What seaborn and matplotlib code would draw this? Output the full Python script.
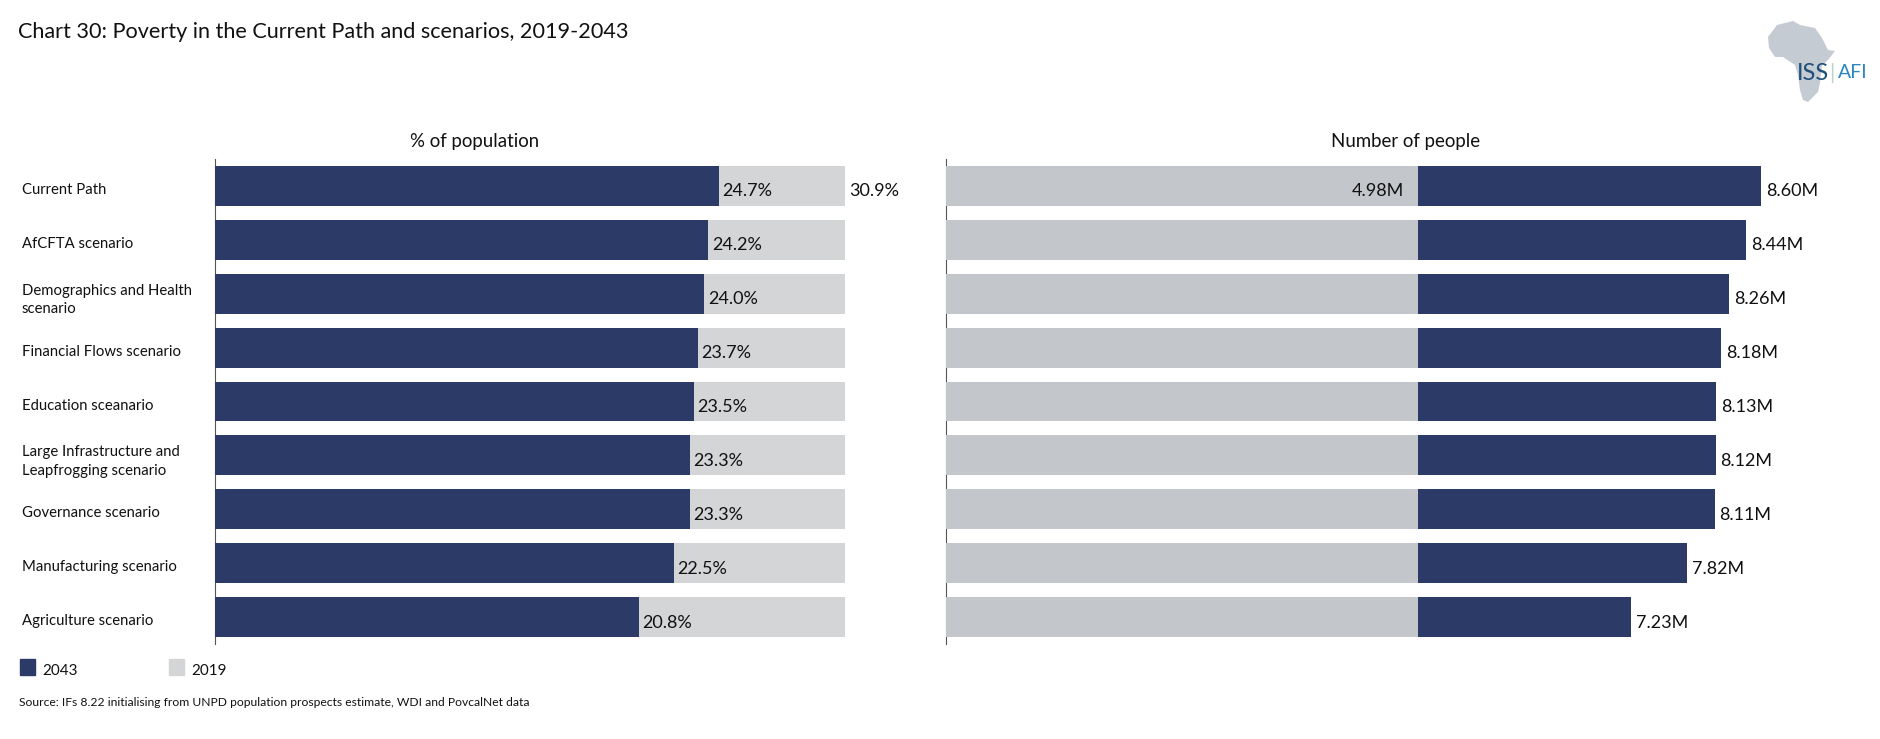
import matplotlib
matplotlib.use("Agg")
import matplotlib.pyplot as plt
from matplotlib.patches import Patch, Polygon
from matplotlib.transforms import ScaledTranslation
import seaborn as sns

categories = ["Current Path", "AfCFTA scenario", "Demographics and Health\nscenario",
              "Financial Flows scenario", "Education sceanario",
              "Large Infrastructure and\nLeapfrogging scenario", "Governance scenario",
              "Manufacturing scenario", "Agriculture scenario"]
pct_2043 = [24.7, 24.2, 24.0, 23.7, 23.5, 23.3, 23.3, 22.5, 20.8]
pct_2019 = [30.9] * 9
people_2043 = [8.60, 8.44, 8.26, 8.18, 8.13, 8.12, 8.11, 7.82, 7.23]
people_2019 = [4.98] * 9

W, H = 1880, 739
DARK, GREY_L, GREY_R, INK = "#2B3A66", "#D4D5D7", "#C3C6CA", "#111111"
LABEL_SIZE = 13
LABEL_DROP_PT = 4.0

sns.set_theme(style="white")
plt.rcParams["font.family"] = ["Lato", "DejaVu Sans"]

fig = plt.figure(figsize=(W / 100, H / 100), dpi=100, facecolor="white")


def axes_px(left, right, top, bottom):
    return fig.add_axes([left / W, 1 - bottom / H, (right - left) / W, (bottom - top) / H])


def style(ax):
    for side in ("top", "right", "bottom"):
        ax.spines[side].set_visible(False)
    ax.spines["left"].set_color("#555555")
    ax.spines["left"].set_linewidth(0.8)
    ax.spines["left"].set_zorder(0.5)
    ax.set_xlabel("")
    ax.set_ylabel("")
    ax.set_xticks([])


def labels_on(ax, container, labels, padding):
    texts = ax.bar_label(container, labels=labels, padding=padding,
                         fontsize=LABEL_SIZE, color=INK)
    for t in texts:
        x_off, y_off = t.xyann
        t.xyann = (x_off, y_off - LABEL_DROP_PT)


bar_kw = dict(y=categories, orient="h", width=0.74, saturation=1, linewidth=0)

ax1 = axes_px(215, 845, 159, 644)
sns.barplot(x=pct_2019, color=GREY_L, ax=ax1, **bar_kw)
sns.barplot(x=pct_2043, color=DARK, ax=ax1, **bar_kw)
ax1.set_xlim(0, 30.9)
style(ax1)
ax1.tick_params(axis="y", length=0, pad=139, labelsize=10.7, labelcolor=INK)
drop = ScaledTranslation(0, -2.5 / 100, fig.dpi_scale_trans)
for t in ax1.get_yticklabels():
    t.set_ha("left")
    t.set_linespacing(1.4)
    t.set_transform(t.get_transform() + drop)
labels_on(ax1, ax1.containers[1], [f"{v:.1f}%" for v in pct_2043], 2.5)
labels_on(ax1, ax1.containers[0], [f"{pct_2019[0]:.1f}%"] + [""] * 8, 3)

ax2 = axes_px(946, 1761, 159, 644)
sns.barplot(x=people_2043, color=DARK, ax=ax2, **bar_kw)
sns.barplot(x=people_2019, color=GREY_R, ax=ax2, **bar_kw)
ax2.set_xlim(0, 8.6)
style(ax2)
ax2.set_yticks([])
labels_on(ax2, ax2.containers[0], [f"{v:.2f}M" for v in people_2043], 3.5)
labels_on(ax2, ax2.containers[1], [f"{people_2019[0]:.2f}M"] + [""] * 8, -48)


def text_px(x, y, s, **kw):
    fig.text(x / W, 1 - y / H, s, va="center", color=INK, **kw)


text_px(18, 32.5, "Chart 30: Poverty in the Current Path and scenarios, 2019-2043", fontsize=15.6)
text_px(475, 141, "% of population", fontsize=13.4, ha="center")
text_px(1406, 141, "Number of people", fontsize=13.4, ha="center")
text_px(19, 702, "Source: IFs 8.22 initialising from UNPD population prospects estimate, WDI and PovcalNet data",
        fontsize=8.7)

leg = fig.legend(handles=[Patch(color=DARK, label="2043"), Patch(color=GREY_L, label="2019")],
                 loc="center left", bbox_to_anchor=(6 / W, 1 - 667 / H), ncol=2, frameon=False,
                 fontsize=11, handlelength=1.0, handleheight=1.2, handletextpad=0.45,
                 columnspacing=6.0, labelcolor=INK)
for t in leg.get_texts():
    t.set_y(-3)

# ISS AFI logo
africa_px = [(1768, 37), (1777, 25), (1793, 21), (1800, 25), (1815, 28), (1822, 38), (1828, 50),
             (1835, 51), (1828, 60), (1822, 65), (1820, 83), (1818, 92), (1808, 102), (1803, 100),
             (1800, 90), (1798, 75), (1795, 65), (1783, 57), (1775, 57), (1769, 48)]
fig.add_artist(Polygon([(x / W, 1 - y / H) for x, y in africa_px], closed=True,
                       transform=fig.transFigure, facecolor="#C5CBD3", edgecolor="none"))
fig.text(1797 / W, 1 - 73 / H, "ISS", fontsize=17, color="#1F4E79", va="center")
fig.text(1832 / W, 1 - 73 / H, "|", fontsize=15, color="#B9D3C4", va="center", ha="center")
fig.text(1838 / W, 1 - 73 / H, "AFI", fontsize=14, color="#2E86C1", va="center")

fig.savefig("out.png", dpi=100, facecolor="white")
